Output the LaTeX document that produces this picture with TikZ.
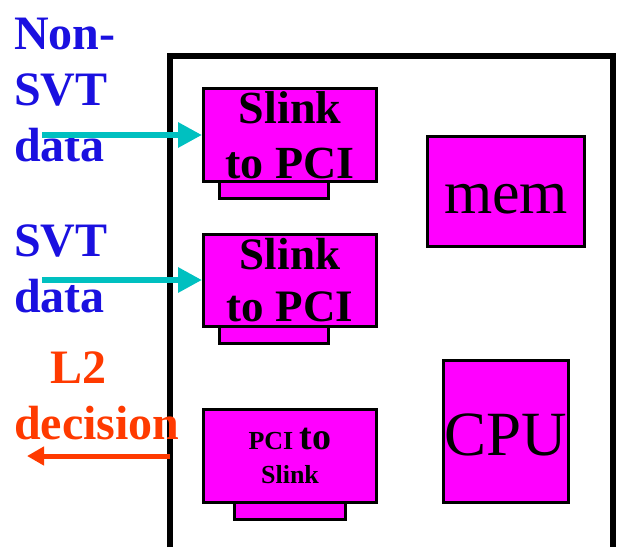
\documentclass[tikz,border=0pt]{standalone}
\usepackage{fontspec}
\setmainfont{Liberation Serif}
\usetikzlibrary{arrows.meta}
\definecolor{lblblue}{RGB}{26,16,224}
\definecolor{lblred}{RGB}{255,58,0}
\definecolor{arrcyan}{RGB}{0,192,192}
\definecolor{boxmag}{RGB}{255,0,255}
\tikzset{
  boxnode/.style={draw=black, fill=boxmag, line width=3pt, inner sep=0pt, align=center, text=black},
  tabnode/.style={draw=black, fill=boxmag, line width=3pt, inner sep=0pt, minimum width=109pt, minimum height=26pt},
  biglabel/.style={inner sep=0pt, align=left, anchor=south west, font={\fontsize{48}{57}\selectfont\bfseries}},
  cyanarrow/.style={draw=arrcyan, line width=6pt, -{Triangle[length=24pt,width=24pt]}},
  redarrow/.style={draw=lblred, line width=5pt, -{Triangle[length=17pt,width=18pt]}},
  frameline/.style={line width=6pt, line join=miter}
}
\begin{document}
\begin{tikzpicture}[x=1pt,y=-1pt]
\useasboundingbox (0,0) rectangle (617,547);
% frame
\draw[frameline] (170,547) -- (170,56) -- (613,56) -- (613,547);
% tabs (behind boxes)
\node[tabnode] (t1) at (273.5,185) {};
\node[tabnode] (t2) at (273.5,330) {};
\node[tabnode, minimum width=111pt] (t3) at (289.5,506) {};
% boxes
\node[boxnode, minimum width=173pt, minimum height=93pt, font={\fontsize{46}{55}\selectfont\bfseries}] (b1) at (290,135) {Slink\\to PCI};
\node[boxnode, minimum width=173pt, minimum height=92pt, font={\fontsize{45}{52}\selectfont\bfseries}] (b2) at (290,280) {Slink\\to PCI};
\node[boxnode, minimum width=173pt, minimum height=93pt, font={\fontsize{26}{34}\selectfont\bfseries}] (b3) at (290,456) {PCI {\fontsize{38}{34}\selectfont to}\\Slink};
\node[boxnode, minimum width=157pt, minimum height=110pt, text height=43pt, text depth=0pt, font={\fontsize{62}{70}\selectfont}] (mem) at (506,191.5) {mem};
\node[boxnode, minimum width=125pt, minimum height=142pt, text height=47pt, text depth=0pt, font={\fontsize{63}{70}\selectfont}] (cpu) at (506,431.5) {CPU};
% labels
\node[biglabel, text=lblblue, font={\fontsize{48}{56}\selectfont\bfseries}] (nonsvt) at (14,162) {Non-\\SVT\\data};
\node[biglabel, text=lblblue, font={\fontsize{48}{56}\selectfont\bfseries}] (svt) at (14,313) {SVT\\data};
\node[biglabel, text=lblred, font={\fontsize{48}{56}\selectfont\bfseries}] (l2) at (14,440) {\hspace*{36pt}L2\\decision};
% arrows
\coordinate (s1) at (42,135);
\coordinate (s2) at (42,280);
\coordinate (l2s) at (170,456);
\coordinate (l2e) at (27,456);
\draw[cyanarrow] (s1) -- (s1 -| b1.west);
\draw[cyanarrow] (s2) -- (s2 -| b2.west);
\draw[redarrow] (l2s) -- (l2e);
\end{tikzpicture}
\end{document}
